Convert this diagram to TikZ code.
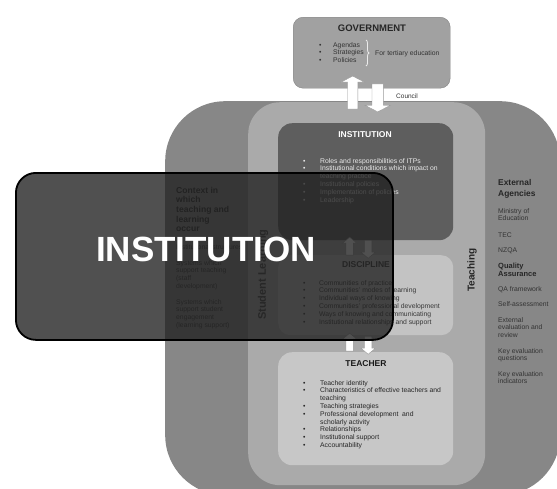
\documentclass[tikz,border=0pt]{standalone}
\usepackage{fontspec}
\setmainfont{Liberation Sans}
\usetikzlibrary{calc, positioning, shapes.arrows, decorations.pathreplacing}
\definecolor{outerband}{gray}{0.53}
\definecolor{midband}{gray}{0.665}
\definecolor{instfill}{gray}{0.37}
\definecolor{discfill}{gray}{0.765}
\definecolor{teachfill}{gray}{0.78}
\definecolor{govfill}{gray}{0.63}
\definecolor{govline}{gray}{0.52}
\definecolor{overfill}{gray}{0.13}
\definecolor{arrline}{gray}{0.6}
\newcommand{\listfont}{\fontsize{6.8}{7.8}\selectfont}
\newcommand{\titlefont}{\fontsize{8.5}{10}\selectfont\bfseries}

\begin{document}
\begin{tikzpicture}[x=1pt,y=-1pt]
	\tikzstyle{band} = [rectangle, anchor=north west, inner sep=0pt]
	\tikzstyle{title} = [font=\titlefont, inner sep=0pt]
	\tikzstyle{blist} = [anchor=base west, inner sep=0pt, font=\listfont]
	\tikzstyle{upbig} = [single arrow, draw=arrline, fill=white, rotate=90, inner xsep=0pt, minimum width=0pt, single arrow tip angle=125]
	\tikzstyle{upsmall} = [single arrow, draw=arrline, fill=white, rotate=90, inner xsep=0pt, inner ysep=3.5pt, minimum width=0pt, minimum height=18pt, single arrow head extend=3.5pt, single arrow tip angle=100]
	\useasboundingbox (0,0) rectangle (557,488);

	% bands
	\node[band, fill=outerband, rounded corners=60pt, minimum width=395pt, minimum height=394pt] (outer) at (165,101) {};
	\node[band, fill=midband, rounded corners=32pt, minimum width=237pt, minimum height=383pt] (mid) at (248,102) {};

	% boxes
	\node[band, fill=govfill, draw=govline, rounded corners=10pt, minimum width=157pt, minimum height=71pt] (gov) at (293,17) {};
	\node[band, fill=instfill, rounded corners=14pt, minimum width=175pt, minimum height=117pt] (inst) at (278,123) {};
	\node[band, fill=discfill, rounded corners=12pt, minimum width=175pt, minimum height=80pt] (disc) at (278,255) {};
	\node[band, fill=teachfill, rounded corners=14pt, minimum width=175pt, minimum height=113pt] (teach) at (278,352) {};

	% government
	\node[inner sep=0pt, font=\fontsize{9.5}{11}\selectfont\bfseries, text=black!85] (govtitle) at (372,28) {GOVERNMENT};
	\node[blist, text=black!80] (govlist) at (319,47) {\begin{tabular}[t]{@{}p{14pt}@{}l@{}}
		\textbullet & Agendas\\ \textbullet & Strategies\\ \textbullet & Policies\end{tabular}};
	\draw[decorate, decoration={brace, amplitude=3pt}, gray!15, thick] (366,40) -- (366,66);
	\node[blist, text=black!80] (govnote) at (375,55) {For tertiary education};
	\node[blist, text=black!80, font=\fontsize{6.5}{7.5}\selectfont] (council) at (396,98) {Council};

	% institution
	\node[title, text=white] (insttitle) at (365,135) {INSTITUTION};
	\node[blist, text=white!92!black] (instlist) at (303,163) {\begin{tabular}[t]{@{}p{17pt}@{}l@{}}
		\textbullet & Roles and responsibilities of ITPs\\
		\textbullet & Institutional conditions which impact on\\
		 & teaching practice\\
		\textbullet & Institutional policies\\
		\textbullet & Implementation of policies\\
		\textbullet & Leadership\end{tabular}};

	% discipline
	\node[title, text=black!80] (disctitle) at (366,265) {DISCIPLINE};
	\node[blist, text=black!78] (disclist) at (303,285) {\begin{tabular}[t]{@{}p{16pt}@{}l@{}}
		\textbullet & Communities of practice\\
		\textbullet & Communities' modes of learning\\
		\textbullet & Individual ways of knowing\\
		\textbullet & Communities' professional development\\
		\textbullet & Ways of knowing and communicating\\
		\textbullet & Institutional relationships and support\end{tabular}};

	% teacher
	\node[title, text=black!90] (teachtitle) at (366,364) {TEACHER};
	\node[blist, text=black!85] (teachlist) at (303,385) {\begin{tabular}[t]{@{}p{17pt}@{}l@{}}
		\textbullet & Teacher identity\\
		\textbullet & Characteristics of effective teachers and\\
		 & teaching\\
		\textbullet & Teaching strategies\\
		\textbullet & Professional development\ \ and\\
		 & scholarly activity\\
		\textbullet & Relationships\\
		\textbullet & Institutional support\\
		\textbullet & Accountability\end{tabular}};

	% context column
	\node[blist, text=black!85, font=\fontsize{8.6}{9.7}\selectfont\bfseries] (context) at (176,193) {\begin{tabular}[t]{@{}l@{}}
		Context in\\ which\\ teaching and\\ learning\\ occur\end{tabular}};
	\node[blist, text=black!80] (struct) at (176,249) {Institutional structures};
	\node[blist, text=black!80] (staffsys) at (176,265) {\begin{tabular}[t]{@{}l@{}}
		Systems which\\ support teaching\\ (staff\\ development)\end{tabular}};
	\node[blist, text=black!80] (studsys) at (176,304) {\begin{tabular}[t]{@{}l@{}}
		Systems which\\ support student\\ engagement\\ (learning support)\end{tabular}};

	% side labels
	\node[rotate=90, anchor=west, inner sep=0pt, text=black!75, font=\fontsize{11}{13}\selectfont\bfseries] (studlbl) at (263,320) {Student Learning};
	\node[rotate=90, inner sep=0pt, text=black!85, font=\fontsize{10}{12}\selectfont\bfseries] (teachlbl) at (472,270) {Teaching};

	% external agencies
	\node[blist, text=black!85, font=\fontsize{8.4}{11}\selectfont\bfseries] (exthead) at (498,185) {\begin{tabular}[t]{@{}l@{}}
		External\\ Agencies\end{tabular}};
	\node[blist, text=black!80] (extmin) at (498,213) {\begin{tabular}[t]{@{}l@{}}Ministry of\\ Education\end{tabular}};
	\node[blist, text=black!80] (exttec) at (498,237) {TEC};
	\node[blist, text=black!80] (extnzqa) at (498,252) {NZQA};
	\node[blist, text=black!85, font=\fontsize{7.5}{8}\selectfont\bfseries] (extqa) at (498,268) {\begin{tabular}[t]{@{}l@{}}Quality\\ Assurance\end{tabular}};
	\node[blist, text=black!80] (extfw) at (498,291) {QA framework};
	\node[blist, text=black!80] (extself) at (498,306) {Self-assessment};
	\node[blist, text=black!80] (exteval) at (498,322) {\begin{tabular}[t]{@{}l@{}}External\\ evaluation and\\ review\end{tabular}};
	\node[blist, text=black!80] (extkq) at (498,353) {\begin{tabular}[t]{@{}l@{}}Key evaluation\\ questions\end{tabular}};
	\node[blist, text=black!80] (extki) at (498,376) {\begin{tabular}[t]{@{}l@{}}Key evaluation\\ indicators\end{tabular}};

	% arrows
	\node[upbig, inner ysep=5pt, single arrow head extend=6.5pt, minimum height=33pt] (govup) at ($(gov.south)+(-19,5.5)$) {};
	\node[upbig, rotate=180, inner ysep=5.5pt, single arrow head extend=7pt, minimum height=28pt] (govdown) at ($(gov.south)+(6,8)$) {};
	\node[upsmall] (instup) at ($(inst.south)!0.5!(disc.north)+(-16,0)$) {};
	\node[upsmall, rotate=180] (instdown) at ($(inst.south)!0.5!(disc.north)+(2.5,0)$) {};
	\node[upsmall] (discup) at ($(disc.south)!0.5!(teach.north)+(-16,0)$) {};
	\node[upsmall, rotate=180] (discdown) at ($(disc.south)!0.5!(teach.north)+(2.5,0)$) {};

	% overlay
	\node[band, fill=overfill, fill opacity=0.79, draw=black, line width=1.8pt, rounded corners=20pt, minimum width=377pt, minimum height=167pt] (over) at (15,172) {};
	\node[text=white, inner sep=0pt, font=\fontsize{35}{40}\selectfont\bfseries] (bigtitle) at (206,249) {INSTITUTION};
\end{tikzpicture}
\end{document}
